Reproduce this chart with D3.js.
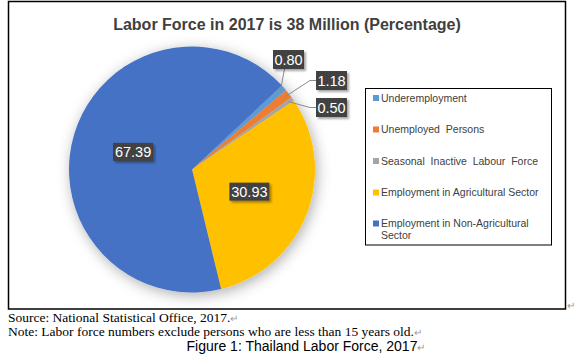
<!DOCTYPE html>
<html>
<head>
<meta charset="utf-8">
<script src="https://cdn.jsdelivr.net/npm/d3@7"></script>
<style>
html,body{margin:0;padding:0;background:#fff;}
svg{display:block;}
</style>
</head>
<body>
<svg id="chart" width="574" height="355"></svg>
<script>
const title = "Labor Force in 2017 is 38 Million (Percentage)";
const categories = ["Underemployment", "Unemployed  Persons", "Seasonal  Inactive  Labour  Force", "Employment in Agricultural Sector", "Employment in Non-Agricultural Sector"];
const values = [0.80, 1.18, 0.50, 30.93, 67.39];
const valueLabels = ["0.80", "1.18", "0.50", "30.93", "67.39"];
const colors = ["#5B9BD5", "#ED7D31", "#A5A5A5", "#FFC000", "#4472C4"];
const footnotes = ["Source: National Statistical Office, 2017.", "Note: Labor force numbers exclude persons who are less than 15 years old."];
const caption = "Figure 1: Thailand Labor Force, 2017";

const svg = d3.select("#chart");
const defs = svg.append("defs");

const sh = defs.append("filter").attr("id","pieShadow").attr("x","-30%").attr("y","-30%").attr("width","160%").attr("height","160%");
sh.append("feDropShadow").attr("dx",2).attr("dy",3).attr("stdDeviation",7).attr("flood-color","#000").attr("flood-opacity",0.32);

const bs = defs.append("filter").attr("id","boxShadow").attr("x","-30%").attr("y","-30%").attr("width","160%").attr("height","160%");
bs.append("feDropShadow").attr("dx",2).attr("dy",2).attr("stdDeviation",1.2).attr("flood-color","#000").attr("flood-opacity",0.35);

const pat = defs.append("pattern").attr("id","dots").attr("width",3).attr("height",3).attr("patternUnits","userSpaceOnUse");
pat.append("rect").attr("width",3).attr("height",3).attr("fill","#3f3f3f");
pat.append("rect").attr("x",1).attr("y",1).attr("width",1).attr("height",1).attr("fill","#4d4d4d");

// outer frame
svg.append("rect").attr("x",8.5).attr("y",1.5).attr("width",557).attr("height",307.5)
  .attr("fill","#fff").attr("stroke","#000").attr("stroke-width",1.5);

// title
svg.append("text").attr("x",287).attr("y",30).attr("text-anchor","middle")
  .attr("font-family","Liberation Sans, Arial, sans-serif").attr("font-weight","bold")
  .attr("font-size",16).attr("fill","#404040").text(title);

const cx = 192, cy = 169.5, r = 123;
const start = 47 * Math.PI / 180;
const pie = d3.pie().sort(null).startAngle(start).endAngle(start + 2*Math.PI);
const arcs = pie(values);
const arc = d3.arc().innerRadius(0).outerRadius(r);

const g = svg.append("g").attr("transform",`translate(${cx},${cy})`);
g.append("g").attr("filter","url(#pieShadow)")
  .selectAll("path").data(arcs).join("path")
  .attr("d",arc).attr("fill",(d,i)=>colors[i]);

// leader lines + labels
const outerLabel = { 0:{bx:96.5,by:-110,w:31,h:19,mode:"below"}, 1:{bx:139.5,by:-89,w:31,h:19,mode:"left"}, 2:{bx:139.5,by:-62,w:31,h:19,mode:"left"} };
const lab = g.append("g");
arcs.forEach((d,i)=>{
  let px, py, w, h;
  if (outerLabel[i]) {
    const o = outerLabel[i];
    px = o.bx; py = o.by; w = o.w; h = o.h;
    const mid = (d.startAngle + d.endAngle)/2;
    const ax = Math.sin(mid)*r*0.96, ay = -Math.cos(mid)*r*0.96;
    let pts;
    if (o.mode === "below") pts = [[ax,ay],[px-4,py+h/2]];
    else pts = [[ax,ay],[px-w/2-6,py],[px-w/2,py]];
    lab.append("path").attr("d",d3.line()(pts)).attr("fill","none").attr("stroke","#8c8c8c").attr("stroke-width",1);
  } else {
    const c = arc.centroid(d);
    px = c[0]; py = c[1]; w = 40; h = 18;
  }
  lab.append("rect").attr("x",px-w/2).attr("y",py-h/2).attr("width",w).attr("height",h)
    .attr("fill","url(#dots)").attr("filter","url(#boxShadow)");
  lab.append("text").attr("x",px).attr("y",py+5).attr("text-anchor","middle")
    .attr("font-family","Liberation Sans, Arial, sans-serif").attr("font-size",14.5)
    .attr("fill","#fff").text(valueLabels[i]);
});

// legend
svg.append("rect").attr("x",365.5).attr("y",88.5).attr("width",186).attr("height",156.5)
  .attr("fill","#fff").attr("stroke","#000").attr("stroke-width",1);
const legY = [98, 129.5, 161, 192.5, 223.5];
const lg = svg.append("g");
categories.forEach((c,i)=>{
  lg.append("rect").attr("x",373).attr("y",legY[i]-3).attr("width",6).attr("height",6).attr("fill",colors[i]);
  const t = lg.append("text").attr("x",381).attr("y",legY[i]+3.5)
    .attr("font-family","Liberation Sans, Arial, sans-serif").attr("font-size",10.5)
    .attr("fill","#404040").style("white-space","pre");
  const words = c.split(" ");
  let line = [], lines = [];
  const tmp = t.append("tspan");
  words.forEach(wd=>{
    const test = line.concat([wd]).join(" ");
    tmp.text(test);
    if (tmp.node().getComputedTextLength() > 165 && line.length) { lines.push(line.join(" ")); line=[wd]; }
    else line.push(wd);
  });
  lines.push(line.join(" "));
  tmp.remove();
  lines.forEach((ln,k)=>{
    t.append("tspan").attr("x",381).attr("dy",k===0?0:12).text(ln);
  });
});

// footnotes
const serif = "Liberation Serif, Times New Roman, serif";
footnotes.forEach((f,i)=>{
  const t = svg.append("text").attr("x",8).attr("y",322 + i*13.5)
    .attr("font-family",serif).attr("font-size",13.5).attr("fill","#000");
  t.append("tspan").text(f);
  t.append("tspan").attr("fill","#999").attr("font-size",10).text("↵");
});
const ct = svg.append("text").attr("x",306).attr("y",351).attr("text-anchor","middle")
  .attr("font-family","Liberation Sans, Arial, sans-serif").attr("font-size",14).attr("fill","#000");
ct.append("tspan").text(caption);
ct.append("tspan").attr("fill","#999").attr("font-size",10).text("↵");
svg.append("text").attr("x",567).attr("y",309).attr("font-family",serif).attr("font-size",10).attr("fill","#999").text("↵");
</script>
</body>
</html>
